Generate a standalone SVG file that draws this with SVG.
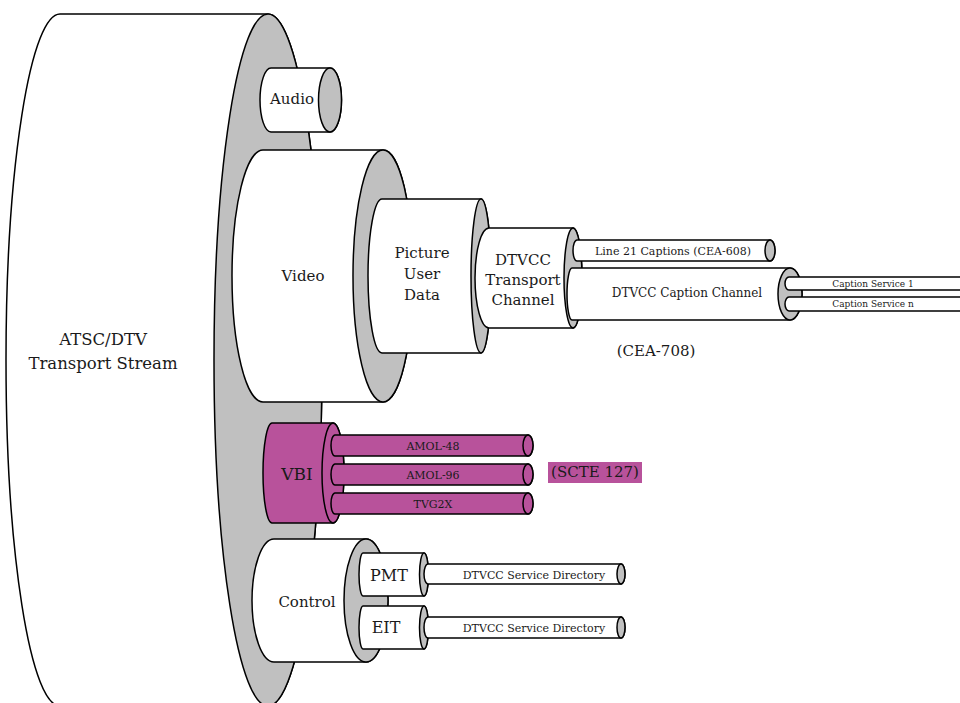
<svg xmlns="http://www.w3.org/2000/svg" width="960" height="703" viewBox="0 0 960 703">
<style>
.b{fill:#fff;stroke:#000;stroke-width:1.5}
.c{fill:#c0c0c0;stroke:#000;stroke-width:1.5}
.m{fill:#b8529b;stroke:#000;stroke-width:1.5}
text{font-family:"DejaVu Serif","Liberation Serif",serif;fill:#1a1a1a;text-anchor:middle}
</style>
<rect width="960" height="703" fill="#fff"/>
<g id="transport-stream">
<path class="b" d="M60,14 L268,14 A54,346 0 0 1 268,706 L60,706 A54,346 0 0 1 60,14 Z"/>
<ellipse class="c" cx="268" cy="360" rx="54" ry="346"/>
<text x="103" y="345" font-size="16.5">ATSC/DTV</text>
<text x="103" y="369" font-size="16.5">Transport Stream</text>
</g>
<g id="audio">
<path class="b" d="M271,68 L330,68 A11.5,32 0 0 1 330,132 L271,132 A11,32 0 0 1 271,68 Z"/>
<ellipse class="c" cx="330" cy="100" rx="11.5" ry="32"/>
<text x="292" y="104" font-size="15">Audio</text>
</g>
<g id="video">
<path class="b" d="M263,150 L383,150 A30,126 0 0 1 383,402 L263,402 A31,126 0 0 1 263,150 Z"/>
<ellipse class="c" cx="383" cy="276" rx="30" ry="126"/>
<text x="303" y="281" font-size="15">Video</text>
</g>
<g id="picture-user-data">
<path class="b" d="M382,199 L481,199 A10,77 0 0 1 481,353 L382,353 A14,77 0 0 1 382,199 Z"/>
<ellipse class="c" cx="481" cy="276" rx="10" ry="77"/>
<text x="422" y="258" font-size="15">Picture</text>
<text x="422" y="279" font-size="15">User</text>
<text x="422" y="300" font-size="15">Data</text>
</g>
<g id="dtvcc-transport">
<path class="b" d="M489,228 L573,228 A9,50 0 0 1 573,328 L489,328 A14,50 0 0 1 489,228 Z"/>
<ellipse class="c" cx="573" cy="278" rx="9" ry="50"/>
<text x="523" y="265" font-size="15">DTVCC</text>
<text x="523" y="285" font-size="15">Transport</text>
<text x="523" y="305" font-size="15">Channel</text>
</g>
<g id="line21">
<path class="b" d="M577,240 L770,240 A5,10.5 0 0 1 770,261 L577,261 A4,10.5 0 0 1 577,240 Z"/>
<ellipse class="c" cx="770" cy="250.5" rx="5" ry="10.5"/>
<text x="673" y="255" font-size="11">Line 21 Captions (CEA-608)</text>
</g>
<g id="dtvcc-caption-channel">
<path class="b" d="M572,268 L790,268 A12,26 0 0 1 790,320 L572,320 A5,26 0 0 1 572,268 Z"/>
<ellipse class="c" cx="790" cy="294" rx="12" ry="26"/>
<text x="687" y="297" font-size="12">DTVCC Caption Channel</text>
</g>
<g id="caption-service-1">
<path class="b" d="M789,277 L1000,277 L1000,290 L789,290 A4,6.5 0 0 1 789,277 Z"/>
<text x="873" y="287" font-size="9">Caption Service 1</text>
</g>
<g id="caption-service-n">
<path class="b" d="M789,297 L1000,297 L1000,311 L789,311 A4,7 0 0 1 789,297 Z"/>
<text x="873" y="307" font-size="9">Caption Service n</text>
</g>
<g id="cea708">
<text x="656" y="356" font-size="15">(CEA-708)</text>
</g>
<g id="vbi">
<path class="m" d="M272,423 L333,423 A11,50 0 0 1 333,523 L272,523 A9,50 0 0 1 272,423 Z"/>
<ellipse class="m" cx="333" cy="473" rx="11" ry="50"/>
<text x="297" y="480" font-size="17">VBI</text>
</g>
<g id="amol48">
<path class="m" d="M335,435 L528,435 A5,10.5 0 0 1 528,456 L335,456 A4,10.5 0 0 1 335,435 Z"/>
<ellipse class="m" cx="528" cy="445.5" rx="5" ry="10.5"/>
<text x="433" y="450" font-size="11">AMOL-48</text>
</g>
<g id="amol96">
<path class="m" d="M335,464 L528,464 A5,10.5 0 0 1 528,485 L335,485 A4,10.5 0 0 1 335,464 Z"/>
<ellipse class="m" cx="528" cy="474.5" rx="5" ry="10.5"/>
<text x="433" y="479" font-size="11">AMOL-96</text>
</g>
<g id="tvg2x">
<path class="m" d="M335,493 L528,493 A5,10.5 0 0 1 528,514 L335,514 A4,10.5 0 0 1 335,493 Z"/>
<ellipse class="m" cx="528" cy="503.5" rx="5" ry="10.5"/>
<text x="433" y="508" font-size="11">TVG2X</text>
</g>
<g id="scte127">
<rect x="548" y="462" width="94" height="21" fill="#b8529b"/>
<text x="595" y="477" font-size="15">(SCTE 127)</text>
</g>
<g id="control">
<path class="b" d="M274,539 L366,539 A22,61.5 0 0 1 366,662 L274,662 A22,61.5 0 0 1 274,539 Z"/>
<ellipse class="c" cx="366" cy="600.5" rx="22" ry="61.5"/>
<text x="307" y="607" font-size="15">Control</text>
</g>
<g id="pmt">
<path class="b" d="M363,553 L424,553 A4.5,21.5 0 0 1 424,596 L363,596 A4,21.5 0 0 1 363,553 Z"/>
<ellipse class="c" cx="424" cy="574.5" rx="4.5" ry="21.5"/>
<text x="389" y="581" font-size="16">PMT</text>
</g>
<g id="eit">
<path class="b" d="M363,606 L424,606 A4.5,21.5 0 0 1 424,649 L363,649 A4,21.5 0 0 1 363,606 Z"/>
<ellipse class="c" cx="424" cy="627.5" rx="4.5" ry="21.5"/>
<text x="386" y="633" font-size="16">EIT</text>
</g>
<g id="pmt-directory">
<path class="b" d="M428,564 L621,564 A4,10 0 0 1 621,584 L428,584 A4,10 0 0 1 428,564 Z"/>
<ellipse class="c" cx="621" cy="574" rx="4" ry="10"/>
<text x="534" y="579" font-size="11">DTVCC Service Directory</text>
</g>
<g id="eit-directory">
<path class="b" d="M428,617 L621,617 A4,10.5 0 0 1 621,638 L428,638 A4,10.5 0 0 1 428,617 Z"/>
<ellipse class="c" cx="621" cy="627.5" rx="4" ry="10.5"/>
<text x="534" y="632" font-size="11">DTVCC Service Directory</text>
</g>
<g id="connectors"/>
</svg>
